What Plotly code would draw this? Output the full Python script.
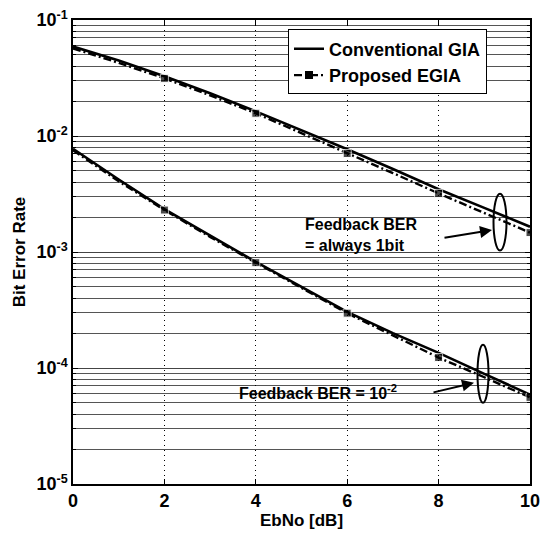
import plotly.graph_objects as go

# ---- data ----
ebno = [0, 1, 2, 3, 4, 5, 6, 7, 8, 9, 10]

# Feedback BER = always 1 bit
conv_1bit = [0.0590, 0.0447, 0.0327, 0.0234, 0.0163, 0.0112, 0.00769, 0.00519, 0.00348, 0.00240, 0.00165]
egia_1bit = [0.0569, 0.0427, 0.0314, 0.0224, 0.0157, 0.0106, 0.00706, 0.00479, 0.00320, 0.00216, 0.00147]

# Feedback BER = 1e-2
conv_1e2 = [0.00776, 0.00422, 0.00234, 0.00138, 0.000822, 0.000501, 0.000305, 0.000200, 0.000135, 0.0000891, 0.0000589]
egia_1e2 = [0.00753, 0.00407, 0.00230, 0.00135, 0.000809, 0.000490, 0.000297, 0.000191, 0.000123, 0.0000832, 0.0000558]

marker_every = [0, 0, 8, 0, 8, 0, 8, 0, 8, 0, 8]

legend_names = ["Conventional GIA", "Proposed EGIA"]
x_ticks = [0, 2, 4, 6, 8, 10]
y_tickvals = [1e-5, 1e-4, 1e-3, 1e-2, 1e-1]
y_ticktext = ["10<sup>-5</sup>", "10<sup>-4</sup>", "10<sup>-3</sup>", "10<sup>-2</sup>", "10<sup>-1</sup>"]

FONT = "Liberation Sans"
DASH = "8px,3px,2px,3px"

# plot-area pixel geometry (for converting reference pixel positions)
L, R, T, B = 73, 530, 19.5, 484.5
W, H = 544, 534


def px(xp):
    return (xp - L) / (R - L)


def py(yp):
    return (B - yp) / (B - T)


fig = go.Figure()

for ys in (conv_1bit, conv_1e2):
    fig.add_trace(go.Scatter(x=ebno, y=ys, mode="lines", showlegend=False,
                             line=dict(color="black", width=2.6)))
for ys in (egia_1bit, egia_1e2):
    fig.add_trace(go.Scatter(x=ebno, y=ys, mode="lines+markers", showlegend=False,
                             line=dict(color="black", width=2.4, dash=DASH),
                             marker=dict(symbol="square", size=marker_every, color="black")))

# legend-only entries
fig.add_trace(go.Scatter(x=[None], y=[None], mode="lines", name=legend_names[0],
                         line=dict(color="black", width=2.6)))
fig.add_trace(go.Scatter(x=[None], y=[None], mode="lines+markers", name=legend_names[1],
                         line=dict(color="black", width=2.4, dash=DASH),
                         marker=dict(symbol="square", size=8, color="black")))

# white boxes behind annotation text (between grid and traces)
fig.add_shape(type="rect", xref="paper", yref="paper", x0=px(299), x1=px(456), y0=py(252), y1=py(207),
              fillcolor="white", line=dict(width=0), layer="between")
fig.add_shape(type="rect", xref="paper", yref="paper", x0=px(231), x1=px(432), y0=py(414), y1=py(369),
              fillcolor="white", line=dict(width=0), layer="between")

# ellipses
fig.add_shape(type="circle", xref="paper", yref="paper", x0=px(493.5), x1=px(506.5), y0=py(250.5), y1=py(193.5),
              line=dict(color="black", width=2))
fig.add_shape(type="circle", xref="paper", yref="paper", x0=px(477.5), x1=px(488.5), y0=py(403), y1=py(345),
              line=dict(color="black", width=2))

# texts
fig.add_annotation(x=px(303), y=py(235), xref="paper", yref="paper", xanchor="left", yanchor="middle",
                   text="Feedback BER<br>= always 1bit", showarrow=False, align="left",
                   font=dict(family=FONT, size=16, color="black", weight="bold"))
fig.add_annotation(x=px(237), y=py(392), xref="paper", yref="paper", xanchor="left", yanchor="middle",
                   text="Feedback BER = 10<sup>-2</sup>", showarrow=False, align="left",
                   font=dict(family=FONT, size=16, color="black", weight="bold"))

# arrows (tail offsets in pixels)
fig.add_annotation(x=px(492), y=py(230), ax=-49, ay=8, xref="paper", yref="paper",
                   axref="pixel", ayref="pixel",
                   text="", showarrow=True, arrowhead=2, arrowsize=1.2, arrowwidth=2, arrowcolor="black")
fig.add_annotation(x=px(474), y=py(383), ax=-42, ay=10, xref="paper", yref="paper",
                   axref="pixel", ayref="pixel",
                   text="", showarrow=True, arrowhead=2, arrowsize=1.2, arrowwidth=2, arrowcolor="black")

fig.update_layout(
    width=W, height=H,
    margin=dict(l=L, r=W - R, t=T, b=H - B, autoexpand=False),
    paper_bgcolor="white", plot_bgcolor="white",
    font=dict(family=FONT, color="black"),
    legend=dict(x=px(288), y=py(29), xanchor="left", yanchor="top",
                bgcolor="white", bordercolor="black", borderwidth=1,
                font=dict(family=FONT, size=18, color="black", weight="bold"),
                tracegroupgap=0),
    xaxis=dict(range=[0, 10], tickvals=x_ticks, showline=True, linecolor="black", linewidth=1.5,
               mirror="ticks", ticks="inside", ticklen=5, tickcolor="black",
               showgrid=True, gridcolor="black", griddash="1px,4px", gridwidth=1,
               zeroline=False, automargin=False,
               tickfont=dict(family=FONT, size=18, color="black", weight="bold"),
               title=dict(text="EbNo [dB]", standoff=4,
                          font=dict(family=FONT, size=17, color="black", weight="bold"))),
    yaxis=dict(type="log", range=[-5, -1], tickvals=y_tickvals, ticktext=y_ticktext,
               showline=True, linecolor="black", linewidth=1.5, mirror="ticks",
               ticks="inside", ticklen=5, tickcolor="black", automargin=False,
               showgrid=True, gridcolor="#444", gridwidth=1,
               minor=dict(dtick="D1", showgrid=True, gridcolor="#555", gridwidth=1,
                          ticks="inside", ticklen=3, tickcolor="black"),
               tickfont=dict(family=FONT, size=18, color="black", weight="bold"),
               title=dict(text="Bit Error Rate", standoff=6,
                          font=dict(family=FONT, size=17, color="black", weight="bold"))),
)

fig.write_html("out.html", config={"displayModeBar": False},
               post_script="document.body.style.margin='0px';document.body.style.overflow='hidden';")
